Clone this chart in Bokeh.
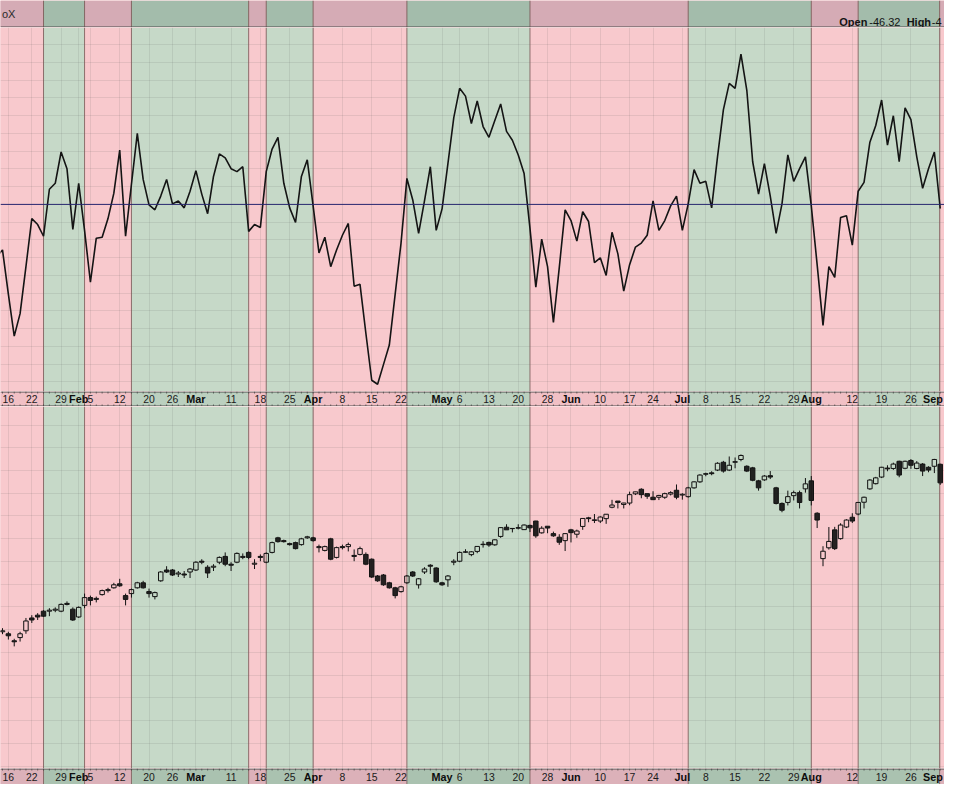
import numpy as np
from bokeh.plotting import figure
from bokeh.models import Range1d, Span, Label, FixedTicker
from bokeh.layouts import column
from bokeh.core.properties import value
from bokeh.embed import file_html
from bokeh.resources import INLINE

# x axis = trading-day index, 0 = 2024-01-16
tick_idx = [0, 4, 9, 12, 14, 19, 24, 28, 32, 38, 43, 48, 52, 57, 62, 67, 74, 77, 82, 87,
            92, 96, 101, 106, 110, 115, 119, 124, 129, 134, 137, 144, 149, 154, 159]
tick_labels = ["16", "22", "29", "Feb", "5", "12", "20", "26", "Mar", "11", "18", "25", "Apr",
               "8", "15", "22", "May", "6", "13", "20", "28", "Jun", "10", "17", "24", "Jul",
               "8", "15", "22", "29", "Aug", "12", "19", "26", "Sep"]
month_names = {"Feb", "Mar", "Apr", "May", "Jun", "Jul", "Aug", "Sep"}

# band boundaries (trading-day index); first band is negative (pink)
band_edges = [6, 13, 21, 41, 44, 52, 68, 89, 116, 137, 145, 158.9]

# oscillator, index -2 .. 159
osc_start = -2
osc = [-591, -514, -1011, -1486, -1232, -702, -160, -227, -359, 171,
       238, 591, 403, -282, 238, -293, -878, -381, -370, -160,
       127, 613, -359, 227, 801, 282, -6, -61, 94, 282,
       6, 39, -39, 149, 381, 116, -105, 315, 569, 525,
       403, 370, 425, -304, -227, -260, 370, 624, 757, 238,
       -39, -204, 315, 503, -17, -547, -370, -702, -514, -348,
       -215, -923, -901, -1453, -1983, -2028, -1807, -1586, -1011, -436,
       293, 50, -326, 39, 425, -293, -50, 459, 978, 1309,
       1221, 912, 1166, 878, 757, 945, 1133, 823, 724, 558,
       348, -271, -934, -392, -702, -1332, -713, -61, -182, -414,
       -83, -193, -657, -602, -801, -315, -558, -978, -680, -481,
       -436, -348, 39, -293, -182, -17, 94, -293, 6, 392,
       238, 260, -39, 536, 1066, 1365, 1309, 1696, 1287, 481,
       116, 459, 94, -326, 6, 558, 260, 403, 536, -17,
       -680, -1365, -702, -823, -149, -127, -459, 149, 249, 702,
       890, 1177, 669, 1000, 481, 1088, 956, 536, 182, 403,
       591, -46]

# price candles, index -1 .. 159
px_start = -1
opens = [4787, 4777, 4742, 4758, 4792, 4856, 4870, 4890, 4890, 4895,
         4890, 4929, 4900, 4861, 4919, 4958, 4949, 4973, 4993, 5007,
         5027, 4968, 4978, 5007, 5032, 4988, 4963, 5042, 5096, 5096,
         5076, 5076, 5086, 5096, 5140, 5110, 5110, 5135, 5164, 5125,
         5135, 5159, 5184, 5125, 5164, 5135, 5184, 5257, 5243, 5228,
         5233, 5223, 5257, 5257, 5208, 5194, 5252, 5159, 5213, 5213,
         5169, 5174, 5174, 5150, 5066, 5071, 5032, 5007, 4988, 5032,
         5086, 5022, 5086, 5120, 5106, 5032, 5047, 5135, 5140, 5185,
         5173, 5189, 5225, 5234, 5222, 5264, 5310, 5303, 5305, 5298,
         5319, 5341, 5282, 5315, 5278, 5260, 5243, 5297, 5275, 5314,
         5357, 5344, 5341, 5353, 5410, 5441, 5424, 5431, 5477, 5500,
         5478, 5460, 5460, 5460, 5476, 5495, 5471, 5463, 5507, 5537,
         5575, 5582, 5596, 5635, 5596, 5635, 5649, 5615, 5607, 5542,
         5547, 5568, 5507, 5429, 5434, 5468, 5483, 5502, 5542, 5380,
         5153, 5207, 5297, 5253, 5311, 5360, 5376, 5435, 5502, 5528,
         5561, 5606, 5604, 5640, 5605, 5644, 5604, 5626, 5610, 5615,
         5625]
highs = [4805, 4787, 4752, 4787, 4856, 4870, 4880, 4895, 4905, 4909,
         4929, 4939, 4909, 4914, 4978, 4968, 4963, 4998, 5007, 5032,
         5052, 4978, 5003, 5037, 5042, 5003, 4988, 5091, 5115, 5101,
         5091, 5091, 5106, 5140, 5150, 5120, 5125, 5164, 5184, 5135,
         5184, 5179, 5189, 5150, 5174, 5184, 5238, 5262, 5248, 5233,
         5238, 5257, 5267, 5262, 5223, 5218, 5257, 5213, 5223, 5233,
         5199, 5213, 5184, 5154, 5071, 5076, 5037, 5012, 5017, 5071,
         5091, 5056, 5110, 5125, 5110, 5037, 5071, 5150, 5189, 5200,
         5191, 5215, 5240, 5238, 5250, 5311, 5325, 5305, 5325, 5324,
         5323, 5342, 5315, 5316, 5288, 5275, 5281, 5302, 5298, 5354,
         5362, 5376, 5365, 5376, 5447, 5441, 5432, 5488, 5488, 5505,
         5479, 5490, 5472, 5483, 5490, 5524, 5480, 5512, 5540, 5575,
         5583, 5590, 5635, 5642, 5664, 5659, 5674, 5620, 5612, 5547,
         5571, 5591, 5512, 5434, 5493, 5493, 5493, 5556, 5566, 5385,
         5215, 5311, 5312, 5330, 5350, 5380, 5436, 5463, 5551, 5562,
         5612, 5620, 5633, 5643, 5643, 5651, 5641, 5631, 5615, 5652,
         5628]
lows = [4775, 4748, 4714, 4738, 4777, 4831, 4846, 4861, 4865, 4885,
        4885, 4919, 4841, 4856, 4905, 4919, 4934, 4968, 4983, 5003,
        5012, 4919, 4958, 5003, 5003, 4958, 4949, 5037, 5081, 5066,
        5061, 5056, 5056, 5091, 5125, 5056, 5091, 5125, 5115, 5091,
        5130, 5150, 5150, 5101, 5140, 5130, 5179, 5233, 5233, 5218,
        5199, 5218, 5252, 5238, 5184, 5189, 5145, 5154, 5199, 5189,
        5140, 5169, 5120, 5056, 5037, 5017, 5003, 4954, 4983, 5027,
        5061, 5003, 5076, 5076, 5032, 5017, 5012, 5120, 5135, 5181,
        5165, 5180, 5208, 5212, 5217, 5257, 5297, 5284, 5299, 5297,
        5286, 5257, 5278, 5280, 5262, 5222, 5191, 5234, 5257, 5297,
        5335, 5331, 5331, 5327, 5405, 5404, 5404, 5420, 5471, 5455,
        5452, 5446, 5446, 5452, 5469, 5450, 5448, 5458, 5503, 5532,
        5565, 5570, 5591, 5583, 5591, 5605, 5640, 5586, 5540, 5493,
        5542, 5551, 5424, 5385, 5419, 5444, 5404, 5483, 5419, 5306,
        5115, 5198, 5196, 5248, 5306, 5331, 5370, 5404, 5497, 5524,
        5556, 5590, 5597, 5560, 5600, 5602, 5600, 5566, 5585, 5581,
        5522]
closes = [4792, 4767, 4737, 4777, 4841, 4846, 4861, 4865, 4895, 4900,
          4924, 4924, 4846, 4909, 4958, 4944, 4954, 4993, 4998, 5022,
          5017, 4949, 4998, 5032, 5007, 4978, 4983, 5086, 5086, 5071,
          5081, 5071, 5101, 5135, 5135, 5081, 5115, 5159, 5125, 5120,
          5179, 5164, 5159, 5130, 5159, 5179, 5233, 5238, 5238, 5223,
          5203, 5252, 5262, 5243, 5213, 5213, 5150, 5208, 5208, 5223,
          5164, 5203, 5125, 5061, 5042, 5022, 5007, 4968, 5012, 5066,
          5066, 5052, 5101, 5115, 5037, 5022, 5066, 5140, 5184, 5187,
          5187, 5214, 5223, 5221, 5247, 5308, 5297, 5304, 5308, 5321,
          5307, 5267, 5305, 5306, 5267, 5235, 5278, 5283, 5291, 5354,
          5353, 5347, 5361, 5375, 5421, 5434, 5431, 5473, 5487, 5473,
          5465, 5448, 5469, 5478, 5483, 5460, 5475, 5507, 5537, 5571,
          5578, 5578, 5630, 5591, 5620, 5638, 5669, 5591, 5545, 5507,
          5566, 5561, 5429, 5395, 5463, 5483, 5434, 5527, 5444, 5346,
          5190, 5239, 5203, 5321, 5346, 5341, 5434, 5460, 5546, 5557,
          5610, 5602, 5626, 5571, 5640, 5620, 5631, 5591, 5596, 5649,
          5532]

# legend texts in the top strip
legend_items = [("Open", True), ("-46.32", False), ("High", True), ("-4", False)]
panel_title = "oX"

# ---------------------------------------------------------------- styling
FONT = "Liberation Sans"
W = 944
SX = W / 960.0
H_TOP, H_OSC, H_MID, H_PX, H_BOT = 27, 364, 15, 362, 16
X0, X1 = -1.342, 159.73
OSC_RANGE = (-2110, 1995)
PX_RANGE = (4103, 5914)

PINK, GREEN = "#f8c9cd", "#c6d9c8"
TOP_PINK, TOP_GREEN = "#d5abb5", "#a3bcab"
MID_PINK, MID_GREEN = "#f1c0c5", "#bbd0bf"
BOT_PINK, BOT_GREEN = "#dcb1b9", "#aac2b0"
EDGE = "#7b5d5a"
BORDER = "#4d4d4d"

xr = Range1d(X0, X1)
edges = [X0 - 3] + band_edges + [X1 + 3]
band_left, band_right = edges[:-1], edges[1:]
band_green = [i % 2 == 1 for i in range(len(band_left))]


def base(height, y0, y1):
    p = figure(width=W, height=height, x_range=xr, y_range=Range1d(y0, y1),
               toolbar_location=None, tools="", output_backend="svg",
               min_border=0, min_border_left=0, min_border_right=0,
               min_border_top=0, min_border_bottom=0,
               x_axis_location=None, y_axis_location=None,
               outline_line_color=None, background_fill_color=PINK,
               border_fill_color=PINK)
    return p


def add_bands(p, y0, y1, pink, green, edge_alpha=0.85):
    cols = [green if g else pink for g in band_green]
    r = p.quad(left=band_left, right=band_right, bottom=y0, top=y1,
               fill_color=cols, line_color=None)
    r.level = "image"
    p.segment(x0=band_edges, x1=band_edges, y0=y0, y1=y1,
              line_color=EDGE, line_alpha=edge_alpha, line_width=1)


def style_grid(p, yticks):
    p.xgrid.ticker = FixedTicker(ticks=tick_idx)
    p.ygrid.ticker = FixedTicker(ticks=list(yticks))
    p.grid.grid_line_color = "#5a5a5a"
    p.grid.grid_line_alpha = 0.13
    p.grid.grid_line_width = 1


def date_labels(p, y):
    last = len(tick_labels) - 1
    num = [i for i, t in enumerate(tick_labels) if t not in month_names]
    mon = [i for i, t in enumerate(tick_labels) if t in month_names and i != last]
    p.text(x=[tick_idx[i] for i in num], y=y, text=[tick_labels[i] for i in num],
           text_align="center", text_baseline="middle",
           text_font=value(FONT), text_font_size="10.4px", text_color="#1a1a1a")
    p.text(x=[tick_idx[i] for i in mon], y=y, text=[tick_labels[i] for i in mon],
           text_align="center", text_baseline="middle",
           text_font=value(FONT), text_font_size="10.8px", text_font_style="bold",
           text_color="#0d0d0d")
    # last label sits at the right edge: keep it inside the frame
    p.text(x=[X1 - 0.3], y=y, text=[tick_labels[last]], text_align="right",
           text_baseline="middle", text_font=value(FONT), text_font_size="10.8px",
           text_font_style="bold", text_color="#0d0d0d")


day_idx = list(range(px_start, px_start + len(closes)))

# ---------------------------------------------------------------- top strip
top = base(H_TOP, 0, 1)
top.grid.visible = False
add_bands(top, 0, 1, TOP_PINK, TOP_GREEN, 0.9)
top.add_layout(Span(location=0.5 / H_TOP, dimension="width", line_color=BORDER, line_width=1))
leg_x = [853.0, 883.5, 921.5, 947.0]
for xpos, (txt, bold) in zip(leg_x, legend_items):
    top.add_layout(Label(x=xpos * SX, y=5.5, x_units="screen", y_units="screen", text=txt,
                         text_font=FONT, text_font_size="11px",
                         text_font_style="bold" if bold else "normal",
                         text_color="#141414", text_baseline="alphabetic"))
top.add_layout(Label(x=1.5, y=14, x_units="screen", y_units="screen", text=panel_title,
                     text_font=FONT, text_font_size="11px", text_color="#2a2a2a",
                     text_baseline="alphabetic"))

# ---------------------------------------------------------------- oscillator
po = base(H_OSC, *OSC_RANGE)
add_bands(po, OSC_RANGE[0], OSC_RANGE[1], PINK, GREEN)
style_grid(po, [v for v in range(-2000, 2001, 200) if v != 0])
po.add_layout(Span(location=0, dimension="width", line_color="#25256e", line_width=1))
osc_idx = list(range(osc_start, osc_start + len(osc)))
po.line(osc_idx, osc, line_color="#141414", line_width=1.6)

# ---------------------------------------------------------------- middle date strip
mid = base(H_MID, 0, 1)
mid.grid.visible = False
add_bands(mid, 0, 1, MID_PINK, MID_GREEN)
mid.segment(x0=day_idx, x1=day_idx, y0=1, y1=1 - 2.0 / H_MID, line_color="#333333",
            line_alpha=0.7)
mid.segment(x0=day_idx, x1=day_idx, y0=0, y1=2.0 / H_MID, line_color="#333333",
            line_alpha=0.7)
mid.add_layout(Span(location=1 - 0.5 / H_MID, dimension="width", line_color=BORDER, line_width=1))
mid.add_layout(Span(location=0.5 / H_MID, dimension="width", line_color=BORDER, line_width=1))
date_labels(mid, 0.5)

# ---------------------------------------------------------------- price candles
pp = base(H_PX, *PX_RANGE)
add_bands(pp, PX_RANGE[0], PX_RANGE[1], PINK, GREEN)
style_grid(pp, np.arange(5821, 4100, -113.7))
body_top = [max(o, c) for o, c in zip(opens, closes)]
body_bot = [min(o, c) for o, c in zip(opens, closes)]
pp.segment(x0=day_idx, x1=day_idx, y0=highs, y1=body_top, line_color="#111111", line_width=1)
pp.segment(x0=day_idx, x1=day_idx, y0=body_bot, y1=lows, line_color="#111111", line_width=1)
up = [i for i, (o, c) in enumerate(zip(opens, closes)) if c >= o]
dn = [i for i, (o, c) in enumerate(zip(opens, closes)) if c < o]
pp.vbar(x=[day_idx[i] for i in up], width=0.76, top=[body_top[i] for i in up],
        bottom=[body_bot[i] for i in up], fill_alpha=0, line_color="#111111", line_width=1)
pp.vbar(x=[day_idx[i] for i in dn], width=0.76, top=[body_top[i] for i in dn],
        bottom=[body_bot[i] for i in dn], fill_color="#121212", fill_alpha=0.92,
        line_color="#121212", line_width=1)

# ---------------------------------------------------------------- bottom date strip
bot = base(H_BOT, 0, 1)
bot.grid.visible = False
add_bands(bot, 0, 1, BOT_PINK, BOT_GREEN)
bot.segment(x0=day_idx, x1=day_idx, y0=1, y1=1 - 2.0 / H_BOT, line_color="#333333",
            line_alpha=0.7)
bot.add_layout(Span(location=1 - 0.5 / H_BOT, dimension="width", line_color=BORDER, line_width=1))
date_labels(bot, 0.47)

layout = column(top, po, mid, pp, bot, spacing=0)
open("out.html", "w").write(file_html(layout, INLINE))
